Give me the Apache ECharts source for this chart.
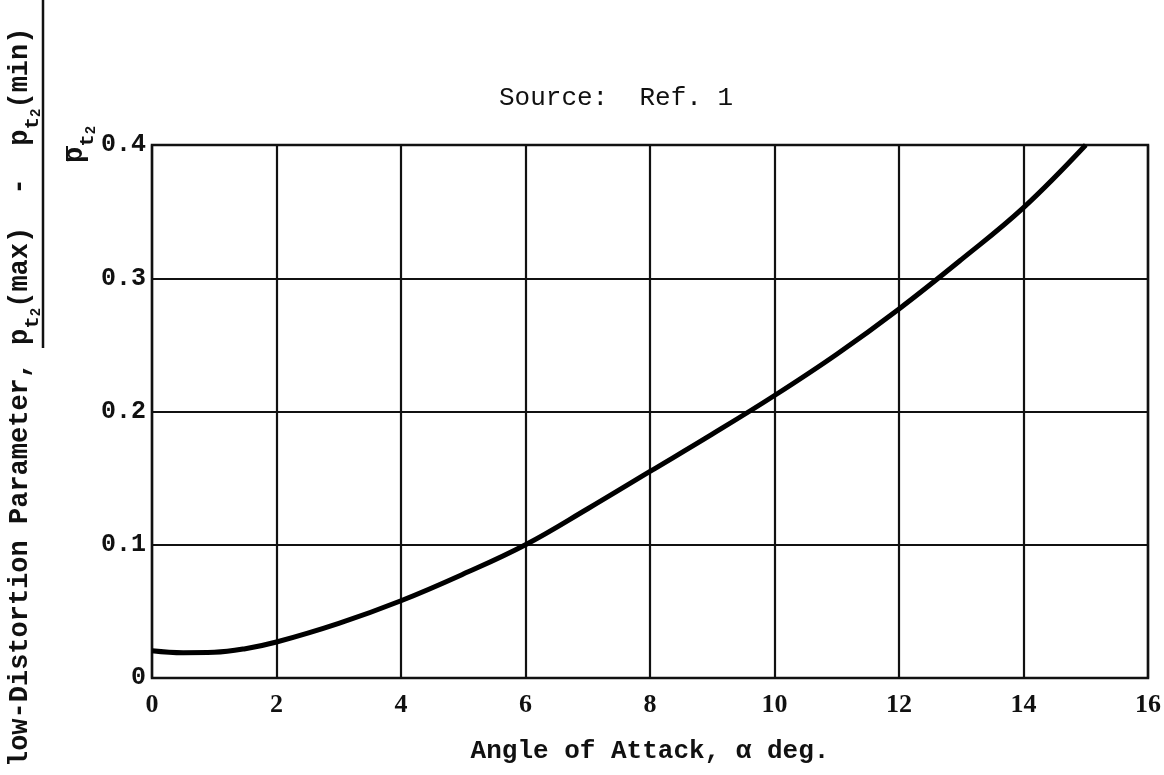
<!DOCTYPE html>
<html>
<head>
<meta charset="utf-8">
<script src="https://cdn.jsdelivr.net/npm/echarts@6/dist/echarts.min.js"></script>
<style>
    html, body { margin: 0; padding: 0; background: #fff; }
    #main { width: 1164px; height: 775px; }
</style>
</head>
<body>
<div id="main"></div>
<script>
    // angle of attack (deg) and distortion parameter
    var alpha = [0, 0.5, 1, 1.5, 2, 3, 4, 5, 6, 7, 8, 9, 10, 11, 12, 13, 14, 15];
    var distortion = [0.0205, 0.0190, 0.0193, 0.0220, 0.027, 0.041, 0.058, 0.078, 0.100, 0.127, 0.155, 0.183, 0.212, 0.243, 0.277, 0.314, 0.353, 0.400];

    var titleText = 'Source:  Ref. 1';
    var xName = 'Angle of Attack, \u03b1 deg.';
    var yName = 'low-Distortion Parameter,';

    var mono = '"Liberation Mono", "DejaVu Sans Mono", monospace';

    var points = [];
    for (var i = 0; i < alpha.length; i++) {
        points.push([alpha[i], distortion[i]]);
    }

    var chart = echarts.init(document.getElementById('main'));

    // rich styles for p with t2 subscript
    var fracRich = {
        m: { fontFamily: mono, fontSize: 27, fontWeight: 'bold', color: '#111', lineHeight: 36, verticalAlign: 'top' },
        s: { fontFamily: mono, fontSize: 21, fontWeight: 'bold', color: '#111', lineHeight: 36, verticalAlign: 'bottom' },
        ss: { fontFamily: mono, fontSize: 14, fontWeight: 'bold', color: '#111', lineHeight: 36, verticalAlign: 'bottom' }
    };

    var option = {
        backgroundColor: '#fff',
        animation: false,
        title: {
            text: titleText,
            left: 494,
            top: 80,
            textStyle: { fontFamily: mono, fontSize: 26, fontWeight: 'normal', color: '#111' }
        },
        grid: {
            left: 152,
            right: 14,
            top: 145,
            bottom: 97,
            show: true,
            borderColor: '#111',
            borderWidth: 2.5
        },
        xAxis: {
            type: 'value',
            min: 0,
            max: 16,
            interval: 2,
            name: xName,
            nameLocation: 'middle',
            nameGap: 60,
            nameTextStyle: { fontFamily: mono, fontSize: 26, fontWeight: 'bold', color: '#111' },
            axisLine: { show: false },
            axisTick: { show: false },
            axisLabel: {
                margin: 14,
                fontFamily: '"Liberation Serif", serif',
                fontSize: 26,
                fontWeight: 'bold',
                color: '#111'
            },
            splitLine: { show: true, lineStyle: { color: '#111', width: 2.2 } }
        },
        yAxis: {
            type: 'value',
            min: 0,
            max: 0.4,
            interval: 0.1,
            axisLine: { show: false },
            axisTick: { show: false },
            axisLabel: {
                margin: 6,
                fontFamily: mono,
                fontSize: 25,
                fontWeight: 'bold',
                color: '#111'
            },
            splitLine: { show: true, lineStyle: { color: '#111', width: 2.2 } }
        },
        graphic: [
            {
                type: 'text',
                x: 20,
                y: 362,
                rotation: Math.PI / 2,
                style: {
                    text: yName,
                    font: 'bold 27px ' + mono,
                    fill: '#111',
                    align: 'right',
                    verticalAlign: 'middle',
                    textAlign: 'right',
                    textVerticalAlign: 'middle'
                }
            },
            {
                type: 'text',
                x: 25,
                y: 345,
                rotation: Math.PI / 2,
                style: {
                    text: '{m|p}{s|t}{ss|2}{m|(max)  -  p}{s|t}{ss|2}{m|(min)}',
                    fill: '#111',
                    align: 'left',
                    verticalAlign: 'middle',
                    textAlign: 'left',
                    textVerticalAlign: 'middle',
                    rich: fracRich
                }
            },
            {
                type: 'line',
                shape: { x1: 43, y1: 0, x2: 43, y2: 348 },
                style: { stroke: '#111', lineWidth: 2.5 }
            },
            {
                type: 'text',
                x: 80,
                y: 163,
                rotation: Math.PI / 2,
                style: {
                    text: '{m|p}{s|t}{ss|2}',
                    fill: '#111',
                    align: 'left',
                    verticalAlign: 'middle',
                    textAlign: 'left',
                    textVerticalAlign: 'middle',
                    rich: fracRich
                }
            },
            {
                type: 'line',
                shape: { x1: 67, y1: 146, x2: 67, y2: 161 },
                style: { stroke: '#111', lineWidth: 2 }
            }
        ],
        series: [
            {
                type: 'line',
                data: points,
                smooth: 0.4,
                showSymbol: false,
                clip: false,
                lineStyle: { color: '#000', width: 5 }
            }
        ]
    };

    chart.setOption(option);
</script>
</body>
</html>
